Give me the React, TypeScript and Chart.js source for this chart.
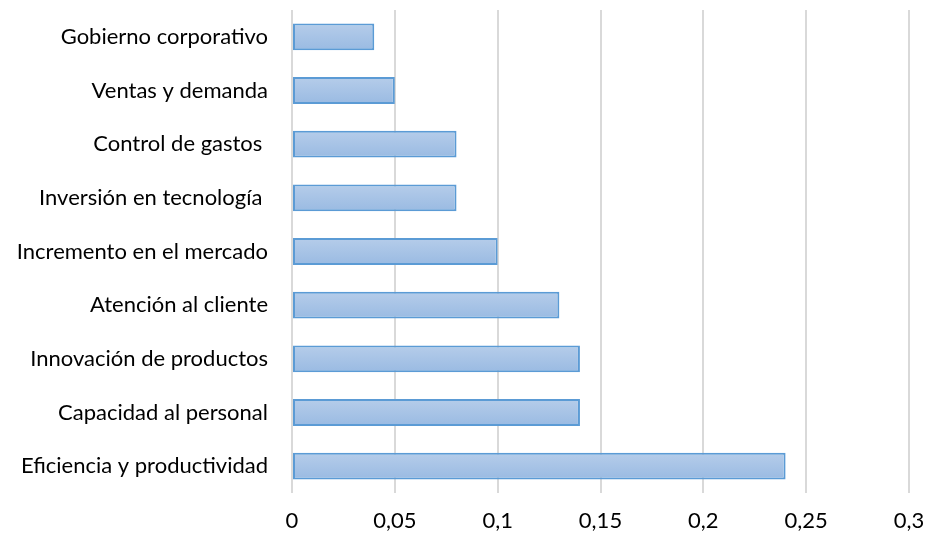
import React, { useEffect, useRef } from "react";
import { Chart, registerables } from "chart.js";

Chart.register(...registerables);

const categories = [
  "Gobierno corporativo",
  "Ventas y demanda",
  "Control de gastos ",
  "Inversión en tecnología ",
  "Incremento en el mercado",
  "Atención al cliente",
  "Innovación de productos",
  "Capacidad al personal",
  "Eficiencia y productividad",
];
const values = [0.04, 0.05, 0.08, 0.08, 0.1, 0.13, 0.14, 0.14, 0.24];
const xMin = 0;
const xMax = 0.3;
const xStep = 0.05;

export default function App() {
  const ref = useRef<HTMLCanvasElement>(null);
  useEffect(() => {
    if (!ref.current) return;
    const fontFamily = "Lato, 'Open Sans', sans-serif";
    const chart = new Chart(ref.current, {
      type: "bar",
      data: {
        labels: categories,
        datasets: [
          {
            data: values,
            backgroundColor: (ctx: any) => {
              const c = ctx.chart;
              const ys = c.scales && c.scales.y;
              if (!ys || ctx.dataIndex === undefined || !c.chartArea) return "#a9c5e8";
              const center = ys.getPixelForValue(ctx.dataIndex);
              const half = 14;
              const g = c.ctx.createLinearGradient(0, center - half, 0, center + half);
              g.addColorStop(0, "#b6cdea");
              g.addColorStop(1, "#99bae2");
              return g;
            },
            borderColor: "#5b9bd5",
            borderWidth: 2,
            borderSkipped: false,
            categoryPercentage: 1,
            barPercentage: 0.5,
          },
        ],
      },
      options: {
        indexAxis: "y",
        animation: false,
        responsive: false,
        maintainAspectRatio: false,
        layout: { padding: { top: 10, right: 18, bottom: 0, left: 0 } },
        plugins: { legend: { display: false }, tooltip: { enabled: false } },
        scales: {
          x: {
            min: xMin,
            max: xMax,
            ticks: {
              stepSize: xStep,
              color: "#000",
              padding: 15,
              font: { family: fontFamily, size: 22 },
              callback: (v: any) => String(Math.round(Number(v) * 100) / 100).replace(".", ","),
            },
            grid: { color: "#d9d9d9", lineWidth: 2, drawTicks: false },
            border: { display: false },
            afterFit: (s: any) => {
              s.height = 46;
              s.paddingLeft = 0;
              s.paddingRight = 0;
            },
          },
          y: {
            ticks: {
              color: "#000",
              padding: 0,
              font: { family: fontFamily, size: 22 },
            },
            grid: {
              display: true,
              drawOnChartArea: false,
              drawTicks: true,
              tickLength: 24,
              tickColor: "rgba(0,0,0,0)",
            },
            border: { display: false },
            afterFit: (s: any) => {
              s.width = 292;
              s.paddingTop = 0;
              s.paddingBottom = 0;
            },
          },
        },
      },
    });
    return () => chart.destroy();
  }, []);
  return (
    <div style={{ position: "absolute", left: 0, top: 0, width: 927, height: 539, background: "#fff" }}>
      <canvas ref={ref} width={927} height={539} />
    </div>
  );
}
